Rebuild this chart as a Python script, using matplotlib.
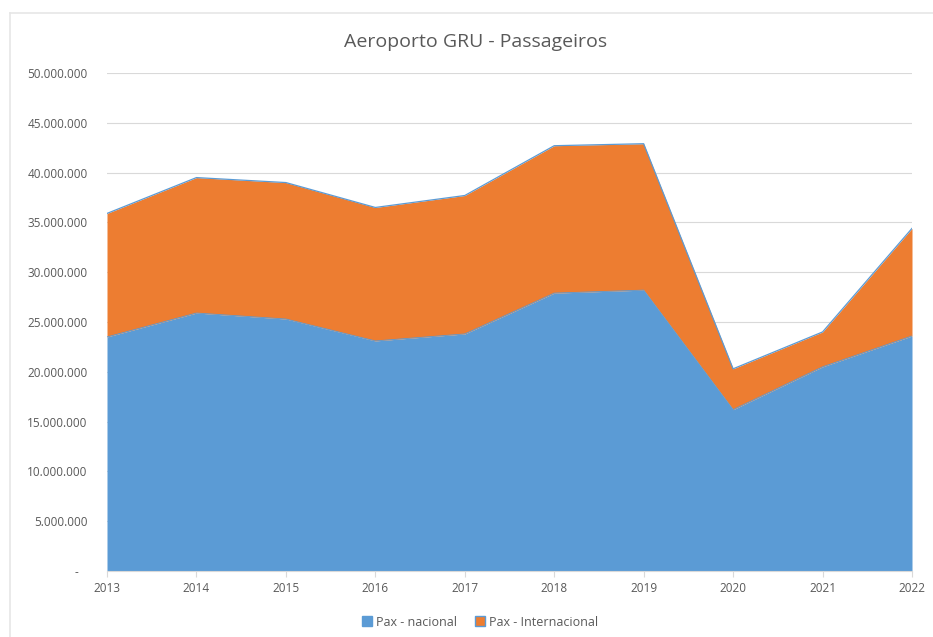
import matplotlib
matplotlib.use("Agg")
import matplotlib.pyplot as plt
from matplotlib.ticker import FuncFormatter
from matplotlib.patches import Patch
from matplotlib.lines import Line2D

years = [2013, 2014, 2015, 2016, 2017, 2018, 2019, 2020, 2021, 2022]
pax_nacional = [23.5e6, 25.9e6, 25.3e6, 23.1e6, 23.8e6, 27.9e6, 28.2e6, 16.2e6, 20.5e6, 23.6e6]
pax_total = [35.9e6, 39.5e6, 39.0e6, 36.5e6, 37.7e6, 42.7e6, 42.9e6, 20.3e6, 24.0e6, 34.4e6]
pax_internacional = [t - n for t, n in zip(pax_total, pax_nacional)]
series_labels = ["Pax - nacional", "Pax - Internacional"]
title = "Aeroporto GRU - Passageiros"

blue = "#5B9BD5"
orange = "#ED7D31"
txt = "#595959"

plt.rcParams['font.family'] = ['Open Sans', 'DejaVu Sans']

fig = plt.figure(figsize=(9.33, 6.37), dpi=100)
ax = fig.add_axes([107/933, 1-571/637, (912-107)/933, (571-73)/637])

top = [n + i for n, i in zip(pax_nacional, pax_internacional)]
ax.fill_between(years, 0, pax_nacional, color=blue, linewidth=0, zorder=2)
ax.fill_between(years, pax_nacional, top, color=orange, linewidth=0, zorder=2)
ax.plot(years, top, color=blue, lw=0.9, zorder=3)
ax.plot(years, pax_nacional, color=blue, lw=0.6, zorder=3)

ax.set_xlim(2013, 2022)
ax.set_ylim(0, 50e6)
ax.set_yticks([i * 5e6 for i in range(11)])
ax.set_xticks(years)
ax.set_xticklabels([str(y) for y in years])

def fmt(v, pos):
    if v == 0:
        return "-   "
    return f"{int(v):,}".replace(",", ".")
ax.yaxis.set_major_formatter(FuncFormatter(fmt))

ax.grid(axis='y', color="#D9D9D9", lw=0.8, zorder=1)
ax.set_axisbelow(True)
for s in ['top', 'right', 'left']:
    ax.spines[s].set_visible(False)
ax.spines['bottom'].set_color("#D9D9D9")
ax.spines['bottom'].set_zorder(4)
ax.tick_params(axis='y', length=0, pad=14, labelsize=8.5, labelcolor=txt)
ax.tick_params(axis='x', length=4, color="#D9D9D9", pad=4, labelsize=8.5, labelcolor=txt)

fig.text(476/933, 1-42/637, title, ha='center', va='center', fontsize=14, color=txt)

handles = [Patch(facecolor=blue, edgecolor=blue), Patch(facecolor=orange, edgecolor=blue)]
fig.legend(handles, series_labels, loc='center', bbox_to_anchor=(480/933, 1-622/637),
           ncol=2, frameon=False, fontsize=9, handlelength=0.8, handleheight=0.8,
           handletextpad=0.3, columnspacing=1.5, labelcolor=txt)

# chart-area border (only top and left edges visible in reference)
fig.add_artist(Line2D([10/933, 1.0], [1-13/637, 1-13/637], transform=fig.transFigure,
                      color="#E6E6E6", lw=1.2))
fig.add_artist(Line2D([10/933, 10/933], [0.0, 1-13/637], transform=fig.transFigure,
                      color="#E6E6E6", lw=1.2))

fig.savefig("out.png", dpi=100)
